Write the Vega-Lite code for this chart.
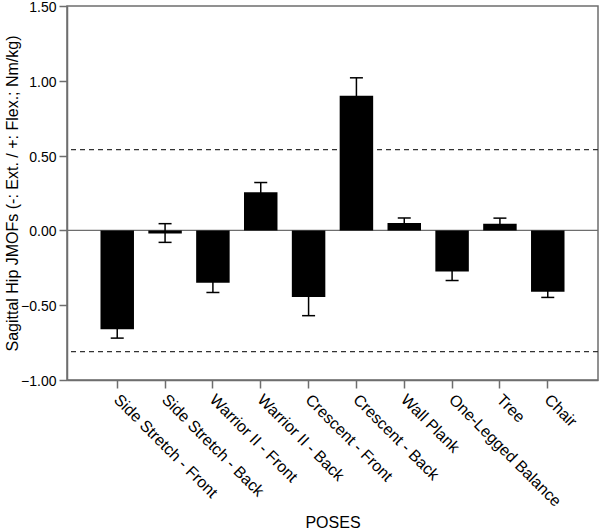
{
  "$schema": "https://vega.github.io/schema/vega-lite/v6.json",
  "width": 531,
  "height": 374,
  "autosize": "none",
  "padding": {"left": 67, "top": 6, "right": 2, "bottom": 150},
  "background": "white",
  "config": {
    "font": "Liberation Sans",
    "view": {"stroke": "#6e6e6e", "strokeWidth": 1.5},
    "axis": {
      "domainColor": "#6e6e6e",
      "domainWidth": 1.5,
      "tickColor": "#6e6e6e",
      "tickWidth": 1.5,
      "tickSize": 8,
      "labelColor": "#000",
      "titleColor": "#000",
      "labelFont": "Liberation Sans",
      "titleFont": "Liberation Sans",
      "titleFontWeight": "normal",
      "grid": false
    }
  },
  "layer": [
    {
      "data": {"values": [{"ref": 0.54}, {"ref": -0.81}]},
      "mark": {"type": "rule", "color": "#333", "strokeWidth": 1.3, "strokeDash": [5, 4]},
      "encoding": {"y": {"field": "ref", "type": "quantitative"}}
    },
    {
      "data": {"values": [{"ref": 0}]},
      "mark": {"type": "rule", "color": "#6e6e6e", "strokeWidth": 1.3},
      "encoding": {"y": {"field": "ref", "type": "quantitative"}}
    },
    {
      "data": {
        "values": [
          {"pose": "Side Stretch - Front", "mean": -0.66, "lo": -0.72, "hi": -0.6},
          {"pose": "Side Stretch - Back", "mean": -0.02, "lo": -0.08, "hi": 0.045},
          {"pose": "Warrior II - Front", "mean": -0.35, "lo": -0.415, "hi": -0.285},
          {"pose": "Warrior II - Back", "mean": 0.255, "lo": 0.19, "hi": 0.32},
          {"pose": "Crescent - Front", "mean": -0.445, "lo": -0.57, "hi": -0.32},
          {"pose": "Crescent - Back", "mean": 0.9, "lo": 0.78, "hi": 1.02},
          {"pose": "Wall Plank", "mean": 0.05, "lo": 0.017, "hi": 0.083},
          {"pose": "One-Legged Balance", "mean": -0.275, "lo": -0.335, "hi": -0.215},
          {"pose": "Tree", "mean": 0.045, "lo": 0.008, "hi": 0.082},
          {"pose": "Chair", "mean": -0.41, "lo": -0.448, "hi": -0.372}
        ]
      },
      "encoding": {
        "x": {
          "field": "pose",
          "type": "nominal",
          "sort": null,
          "scale": {"paddingInner": 0.3, "paddingOuter": 0.7},
          "axis": {
            "title": "POSES",
            "titleFontSize": 16,
            "titleY": 134,
            "labelFontSize": 16,
            "labelAngle": 45,
            "labelAlign": "left",
            "labelBaseline": "top",
            "labelPadding": 3,
            "labelOffset": 5,
            "labelLimit": 300
          }
        }
      },
      "layer": [
        {
          "mark": {"type": "rule", "color": "#000", "strokeWidth": 1.5},
          "encoding": {
            "y": {"field": "lo", "type": "quantitative"},
            "y2": {"field": "hi"}
          }
        },
        {
          "mark": {"type": "tick", "color": "#000", "size": 13, "thickness": 1.5, "opacity": 1},
          "encoding": {"y": {"field": "lo", "type": "quantitative"}}
        },
        {
          "mark": {"type": "tick", "color": "#000", "size": 13, "thickness": 1.5, "opacity": 1},
          "encoding": {"y": {"field": "hi", "type": "quantitative"}}
        },
        {
          "mark": {"type": "bar", "color": "#000"},
          "encoding": {
            "y": {
              "field": "mean",
              "type": "quantitative",
              "scale": {"domain": [-1, 1.5], "nice": false, "zero": false},
              "axis": {
                "values": [-1, -0.5, 0, 0.5, 1, 1.5],
                "format": ".2f",
                "labelFontSize": 14,
                "labelPadding": 3,
                "labelOffset": 1.5,
                "title": "Sagittal Hip JMOFs (-: Ext. / +: Flex.; Nm/kg)",
                "titleFontSize": 16,
                "titleBaseline": "alphabetic",
                "titleX": -50,
                "titleY": 187
              }
            }
          }
        }
      ]
    }
  ]
}
